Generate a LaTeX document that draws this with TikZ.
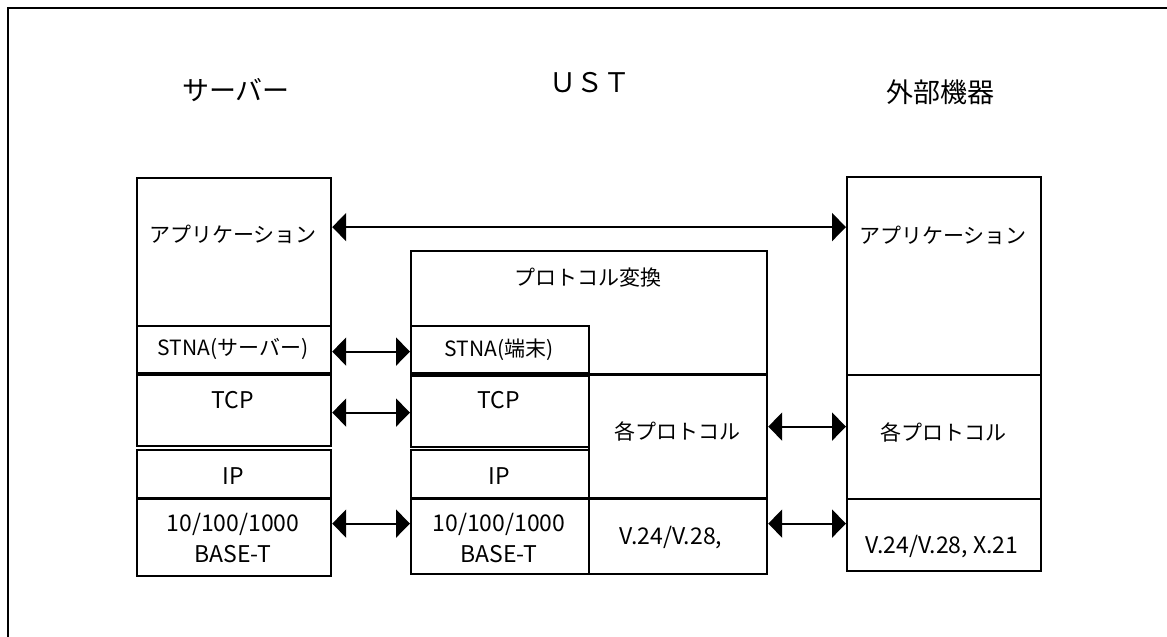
\documentclass[tikz,border=0pt]{standalone}
\usepackage{fontspec}
\setmainfont{Noto Sans CJK JP}
\usetikzlibrary{arrows.meta}
\begin{document}
\begin{tikzpicture}[x=1pt,y=-1pt,
  box/.style={draw, line width=2.2pt, rectangle, inner sep=0pt, anchor=north west},
  lab/.style={font=\fontsize{21}{25}\selectfont, inner sep=0pt},
  lat/.style={font=\fontsize{23}{27}\selectfont, inner sep=0pt},
  ttl/.style={font=\fontsize{27}{32}\selectfont, inner sep=0pt},
  biarrow/.style={line width=1.8pt, {Triangle[length=14pt,width=28pt]}-{Triangle[length=14pt,width=28pt]}}
]
\useasboundingbox (0,0) rectangle (1167,637);
\draw[line width=2.5pt] (8,8) rectangle (1185,655);

% titles
\node[ttl] (tserver) at (236,90) {サーバー};
\node[ttl] (tust) at (590,83) {ＵＳＴ};
\node[ttl] (text) at (940,92) {外部機器};

% server stack
\node[box, minimum width=194pt, minimum height=148pt] (sapp) at (136,177) {};
\node[box, minimum width=194pt, minimum height=47pt] (sstna) at (136,325) {};
\node[box, minimum width=194pt, minimum height=71pt] (stcp) at (136,374) {};
\node[box, minimum width=194pt, minimum height=48pt] (sip) at (136,449) {};
\node[box, minimum width=194pt, minimum height=77pt] (sbase) at (136,498) {};

% UST stack
\node[box, minimum width=356pt, minimum height=123pt] (uconv) at (410,250) {};
\node[box, minimum width=178pt, minimum height=47pt] (ustna) at (410,325) {};
\node[box, minimum width=178pt, minimum height=71pt] (utcp) at (410,375) {};
\node[box, minimum width=178pt, minimum height=48pt] (uip) at (410,449) {};
\node[box, minimum width=178pt, minimum height=75pt] (ubase) at (410,498) {};
\node[box, minimum width=178pt, minimum height=123pt] (uproto) at (588,374) {};
\node[box, minimum width=178pt, minimum height=75pt] (uv24) at (588,498) {};

% external stack
\node[box, minimum width=194pt, minimum height=198pt] (eapp) at (846,176) {};
\node[box, minimum width=194pt, minimum height=124pt] (eproto) at (846,374) {};
\node[box, minimum width=194pt, minimum height=72pt] (ev24) at (846,498) {};

% labels
\node[lab] (lsapp) at (233,234) {アプリケーション};
\node[lab] (lsstna) at (233,349) {STNA(サーバー)};
\node[lat] (lstcp) at (233,400) {TCP};
\node[lat] (lsip) at (233,476) {IP};
\node[lat] (lsbase1) at (233,524) {10/100/1000};
\node[lat] (lsbase2) at (233,554) {BASE-T};

\node[lab] (luconv) at (588,278) {プロトコル変換};
\node[lab] (lustna) at (499,350) {STNA(端末)};
\node[lat] (lutcp) at (499,400) {TCP};
\node[lat] (luip) at (499,476) {IP};
\node[lat] (lubase1) at (499,524) {10/100/1000};
\node[lat] (lubase2) at (499,554) {BASE-T};
\node[lab] (luproto) at (677,431) {各プロトコル};
\node[lat] (luv24) at (671,538) {V.24/V.28,};

\node[lab] (leapp) at (943,235) {アプリケーション};
\node[lab] (leproto) at (943,432) {各プロトコル};
\node[lat] (lev24) at (942,547) {V.24/V.28, X.21};

% connectors
\draw[biarrow] ([yshift=25pt]sapp.east) -- ([yshift=25pt]sapp.east -| eapp.west);
\draw[biarrow] ([yshift=-2pt]sstna.east) -- ([yshift=-2pt]sstna.east -| ustna.west);
\draw[biarrow] ([yshift=-2pt]stcp.east) -- ([yshift=-2pt]stcp.east -| utcp.west);
\draw[biarrow] ([yshift=14pt]sbase.east) -- ([yshift=14pt]sbase.east -| ubase.west);
\draw[biarrow] ([yshift=10pt]uproto.east) -- ([yshift=10pt]uproto.east -| eproto.west);
\draw[biarrow] ([yshift=13pt]uv24.east) -- ([yshift=13pt]uv24.east -| ev24.west);
\end{tikzpicture}
\end{document}
